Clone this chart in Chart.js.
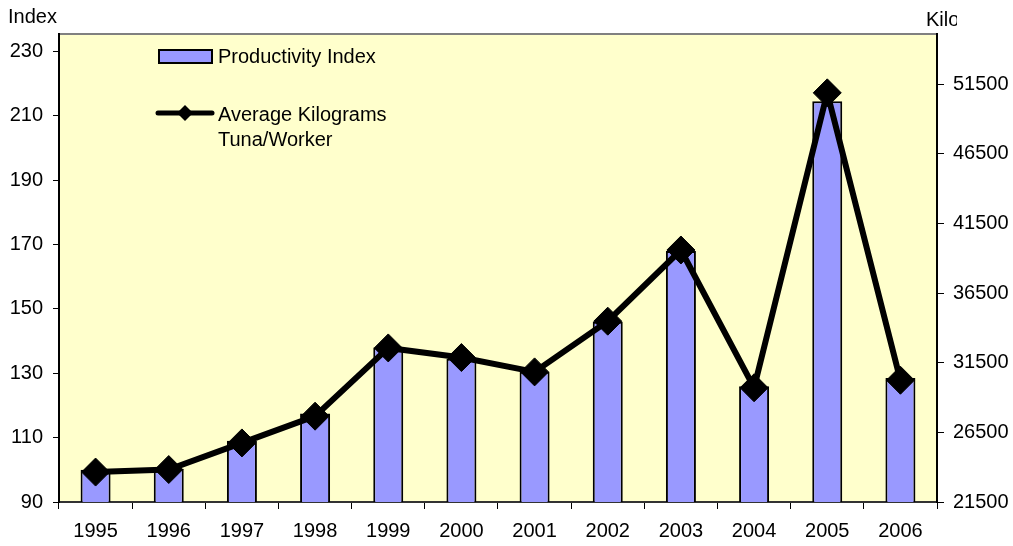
<!DOCTYPE html>
<html>
<head>
<meta charset="utf-8">
<script src="https://cdn.jsdelivr.net/npm/chart.js@4.4.1/dist/chart.umd.min.js"></script>
<style>
    html, body { margin: 0; padding: 0; background: #ffffff; }
</style>
</head>
<body>
<canvas id="myChart" width="1013" height="546"></canvas>
<script>
var years = ["1995", "1996", "1997", "1998", "1999", "2000", "2001", "2002", "2003", "2004", "2005", "2006"];
var productivityIndex = [100, 100.3, 109, 117.5, 138, 134.5, 130.5, 146, 168, 126, 214.5, 128.5];
var avgKilograms = [23650, 23830, 25740, 27660, 32560, 31870, 30840, 34480, 39590, 29700, 50870, 30240];
var indexTicks = [90, 110, 130, 150, 170, 190, 210, 230];
var kiloTicks = [21500, 26500, 31500, 36500, 41500, 46500, 51500];

var FONT = "Liberation Sans, Arial, sans-serif";

var chartDecor = {
    id: 'chartDecor',
    beforeDraw: function (chart) {
        var a = chart.chartArea;
        var ctx = chart.ctx;
        ctx.save();
        ctx.fillStyle = '#FFFFCC';
        ctx.fillRect(a.left, a.top, a.right - a.left, a.bottom - a.top);
        ctx.strokeStyle = '#808080';
        ctx.lineWidth = 2;
        ctx.beginPath();
        ctx.moveTo(a.left, a.top);
        ctx.lineTo(a.right, a.top);
        ctx.stroke();
        ctx.restore();
    },
    afterDraw: function (chart) {
        var ctx = chart.ctx;
        ctx.save();
        ctx.fillStyle = '#000';
        ctx.font = "20px " + FONT;
        ctx.textBaseline = 'middle';
        ctx.textAlign = 'left';
        ctx.fillText("Index", 8, 17);

        // right axis title, cut off at the edge like the original
        ctx.save();
        ctx.beginPath();
        ctx.rect(0, 0, 957, 546);
        ctx.clip();
        ctx.fillText("Kilograms", 926, 20);
        ctx.restore();

        // legend: bars
        ctx.fillStyle = '#9999FF';
        ctx.fillRect(159, 50, 53, 13);
        ctx.strokeStyle = '#000';
        ctx.lineWidth = 2;
        ctx.strokeRect(159, 50, 53, 13);
        ctx.fillStyle = '#000';
        ctx.fillText("Productivity Index", 218, 57);

        // legend: line
        ctx.lineWidth = 5;
        ctx.lineCap = 'round';
        ctx.beginPath();
        ctx.moveTo(158, 113);
        ctx.lineTo(212, 113);
        ctx.stroke();
        ctx.beginPath();
        ctx.moveTo(185, 105);
        ctx.lineTo(193, 113);
        ctx.lineTo(185, 121);
        ctx.lineTo(177, 113);
        ctx.closePath();
        ctx.fill();
        ctx.fillText("Average Kilograms", 218, 115);
        ctx.fillText("Tuna/Worker", 218, 140);
        ctx.restore();
    }
};

var plainLabel = function (v) { return String(v); };

var ctx = document.getElementById('myChart').getContext('2d');
var chart = new Chart(ctx, {
    type: 'bar',
    data: {
        labels: years,
        datasets: [{
            type: 'line',
            label: "Average Kilograms Tuna/Worker",
            data: avgKilograms,
            yAxisID: 'y1',
            borderColor: '#000',
            borderWidth: 6,
            backgroundColor: '#000',
            pointStyle: 'rectRot',
            pointRadius: 14,
            pointBorderWidth: 1,
            pointBackgroundColor: '#000',
            pointBorderColor: '#000',
            tension: 0,
            order: 0
        }, {
            type: 'bar',
            label: "Productivity Index",
            data: productivityIndex,
            yAxisID: 'y',
            backgroundColor: '#9999FF',
            borderColor: '#000',
            borderWidth: 2,
            barPercentage: 0.41,
            categoryPercentage: 1,
            order: 1
        }]
    },
    options: {
        responsive: false,
        animation: { duration: 0 },
        layout: { padding: { top: 34, left: 0, right: 0, bottom: 0 } },
        plugins: {
            legend: { display: false },
            tooltip: { enabled: false }
        },
        scales: {
            x: {
                grid: { offset: true, drawOnChartArea: false, tickLength: 7, color: '#000' },
                border: { color: '#333', width: 2 },
                ticks: { color: '#000', font: { family: FONT, size: 20 }, padding: 10, maxRotation: 0 },
                afterFit: function (s) { s.height = 44; }
            },
            y: {
                position: 'left',
                min: 90,
                max: 235.4,
                grid: { drawOnChartArea: false, tickLength: 6, color: '#000' },
                border: { color: '#000', width: 2 },
                ticks: { color: '#000', font: { family: FONT, size: 20 }, padding: 10, callback: plainLabel },
                afterBuildTicks: function (s) { s.ticks = indexTicks.map(function (v) { return { value: v }; }); },
                afterFit: function (s) { s.width = 59; }
            },
            y1: {
                position: 'right',
                min: 21500,
                max: 55095,
                grid: { drawOnChartArea: false, tickLength: 7, color: '#000' },
                border: { color: '#000', width: 2 },
                ticks: { color: '#000', font: { family: FONT, size: 20 }, padding: 9, callback: plainLabel },
                afterBuildTicks: function (s) { s.ticks = kiloTicks.map(function (v) { return { value: v }; }); },
                afterFit: function (s) { s.width = 76; }
            }
        }
    },
    plugins: [chartDecor]
});
</script>
</body>
</html>
